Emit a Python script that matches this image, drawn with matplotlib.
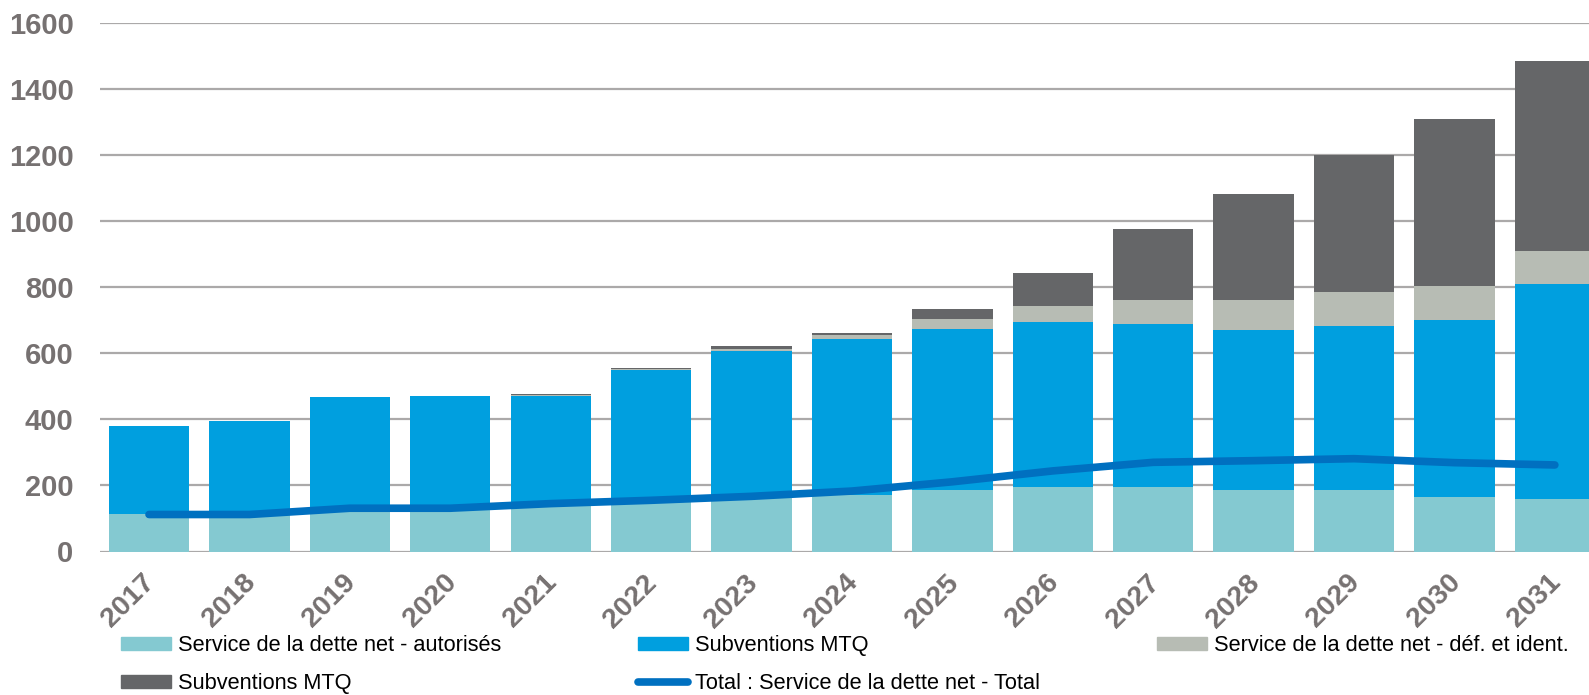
import numpy as np
import matplotlib
matplotlib.use("Agg")
import matplotlib.pyplot as plt
import matplotlib.transforms as mtransforms
from matplotlib.patches import Patch
from matplotlib.lines import Line2D

plt.rcParams['font.family'] = ['Liberation Sans', 'DejaVu Sans']

# data
years = ["2017", "2018", "2019", "2020", "2021", "2022", "2023", "2024",
         "2025", "2026", "2027", "2028", "2029", "2030", "2031"]
autorises = [113, 113, 128, 128, 140, 150, 162, 172, 185, 195, 195, 185, 185, 165, 159]
subv_mtq = [267, 281, 339, 344, 332, 398, 446, 472, 488, 500, 494, 487, 499, 537, 650]
def_ident = [0, 0, 0, 0, 1, 3, 6, 12, 31, 48, 73, 90, 102, 101, 102]
subv_mtq2 = [0, 0, 0, 0, 5, 4, 7, 6, 30, 100, 214, 321, 415, 505, 575]
total_line = [112, 112, 131, 131, 145, 155, 167, 183, 211, 244, 270, 275, 281, 269, 262]

labels = ["Service de la dette net - autorisés", "Subventions MTQ",
          "Service de la dette net - déf. et ident.", "Subventions MTQ",
          "Total : Service de la dette net - Total"]

TEAL = "#84C9D1"; BLUE = "#009FDF"; LGRAY = "#B7BCB4"; DGRAY = "#656668"
LINE = "#0070C0"; GRID = "#ABA9A9"; TXT = "#767171"

W, H = 1589, 695
fig = plt.figure(figsize=(W / 100, H / 100), dpi=100)
ax = fig.add_axes([100 / W, 1 - 551.5 / H, 1 - 100 / W, (551.5 - 23) / H])

x = np.arange(len(years))
series = [autorises, subv_mtq, def_ident, subv_mtq2]
colors = [TEAL, BLUE, LGRAY, DGRAY]
bottom = np.zeros(len(years))
for vals, c in zip(series, colors):
    ax.bar(x, vals, 0.8, bottom=bottom, color=c, zorder=2)
    bottom += np.array(vals)

ax.plot(x, total_line, color=LINE, lw=5.5, solid_capstyle="round",
        solid_joinstyle="round", zorder=3)

ax.set_xlim(-0.488, 14.34)
ax.set_ylim(0, 1600)
ax.set_yticks(np.arange(0, 1601, 200))
ax.yaxis.grid(True, color=GRID, lw=1.6, zorder=0)
ax.set_axisbelow(True)
for s in ax.spines.values():
    s.set_visible(False)
ax.tick_params(axis="both", length=0, colors=TXT)
ax.tick_params(axis="y", pad=19)
for lab in ax.get_yticklabels():
    lab.set_fontsize(21); lab.set_fontweight("bold"); lab.set_color(TXT)

ax.set_xticks(x)
ax.set_xticklabels(years, rotation=45, ha="right", va="top",
                   rotation_mode="anchor", fontsize=20.5, fontweight="bold", color=TXT)
ax.tick_params(axis="x", pad=13)
shift = mtransforms.ScaledTranslation(-0.07, 0, fig.dpi_scale_trans)
for lab in ax.get_xticklabels():
    lab.set_transform(lab.get_transform() + shift)

# legend laid out in three fixed columns, like the original
def leg(handles, labs, x0):
    fig.legend(handles, labs, loc="upper left", bbox_to_anchor=(x0 / W, 1 - 635 / H),
               frameon=False, fontsize=15.7, handlelength=2.3, handleheight=0.55,
               handletextpad=0.3, labelspacing=0.78, borderpad=0, borderaxespad=0,
               labelcolor="black")

h_teal = Patch(color=TEAL); h_blue = Patch(color=BLUE)
h_lg = Patch(color=LGRAY); h_dg = Patch(color=DGRAY)
h_line = Line2D([0], [0], color=LINE, lw=5.5, solid_capstyle="round")
leg([h_teal, h_dg], [labels[0], labels[3]], 121)
leg([h_blue, h_line], [labels[1], labels[4]], 638)
leg([h_lg], [labels[2]], 1157)

fig.savefig("out.png", dpi=100, facecolor="white")
